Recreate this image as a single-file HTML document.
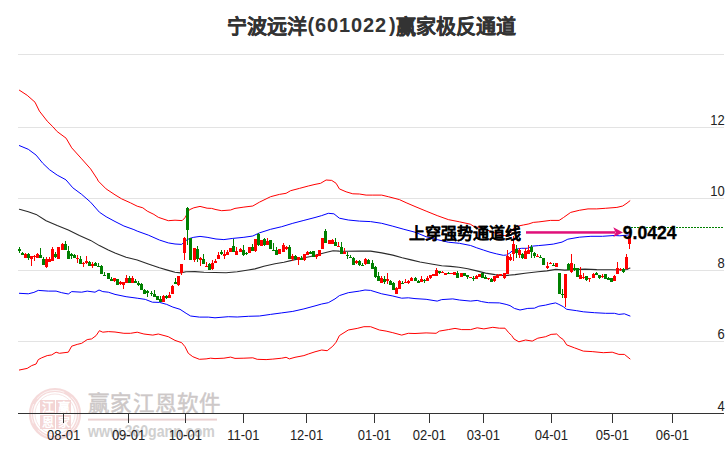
<!DOCTYPE html>
<html lang="zh-CN"><head><meta charset="utf-8">
<style>
html,body{margin:0;padding:0;background:#fff;}
body{width:726px;height:450px;position:relative;overflow:hidden;font-family:"Liberation Sans",sans-serif;}
.title{position:absolute;font-size:20px;font-weight:bold;color:#333;white-space:nowrap;}
.tn{margin-left:-2px;margin-right:6px;}
.xl{position:absolute;top:427px;width:60px;text-align:center;font-size:13px;color:#222;transform:scaleY(1.1);transform-origin:50% 0;}
.yl{position:absolute;right:1.2px;width:40px;text-align:right;font-size:13px;color:#222;transform:scaleY(1.1);transform-origin:50% 0;}
.wm1{position:absolute;left:88.2px;top:385.6px;font-size:21.5px;color:#cdc8c8;letter-spacing:0.2px;white-space:nowrap;-webkit-text-stroke:0.45px #cdc8c8;}
.wm2{position:absolute;left:88px;top:423px;font-size:16px;line-height:18px;font-weight:bold;color:#d0d0d0;white-space:nowrap;transform:scaleX(0.885);transform-origin:0 0;}
.ann{position:absolute;left:409px;top:219.5px;font-size:16px;font-weight:bold;color:#000;white-space:nowrap;-webkit-text-stroke:0.1px #000;}
.val{position:absolute;left:622.8px;top:222.6px;font-size:17.6px;font-weight:bold;color:#000;white-space:nowrap;-webkit-text-stroke:0.3px #000;}
svg{position:absolute;left:0;top:0;}
</style></head><body>
<svg width="726" height="450" viewBox="0 0 726 450">
<g opacity="0.55">
<circle cx="55" cy="414" r="24" fill="none" stroke="#eebcbc" stroke-width="4.2"/>
<circle cx="55" cy="414" r="23.6" fill="none" stroke="#fff" stroke-width="0.7" stroke-dasharray="20,6,30,8"/>
<circle cx="55" cy="414" r="20" fill="none" stroke="#f0d0d0" stroke-width="1"/>
<rect x="40" y="400" width="15" height="14" fill="#eab3b3"/>
<rect x="56" y="400" width="15" height="14" fill="#eab3b3"/>
<rect x="40" y="415" width="15" height="14" fill="#eab3b3"/>
<rect x="56" y="415" width="15" height="14" fill="#eab3b3"/>
<text x="47.5" y="412" font-size="12" text-anchor="middle" fill="#fff" font-weight="bold">江</text>
<text x="63.5" y="412" font-size="12" text-anchor="middle" fill="#fff" font-weight="bold">赢</text>
<text x="47.5" y="427" font-size="12" text-anchor="middle" fill="#fff" font-weight="bold">恩</text>
<text x="63.5" y="427" font-size="12" text-anchor="middle" fill="#fff" font-weight="bold">家</text>
</g>
<rect x="88" y="418.6" width="129" height="2" fill="#ecd2d2"/>
</svg>
<div class="wm1">赢家江恩软件</div>
<div class="wm2">www.360gann.com</div>
<svg width="726" height="450" viewBox="0 0 726 450">
<rect x="18" y="54" width="706" height="1" fill="#e3e3e3"/><rect x="18" y="127" width="706" height="1" fill="#e3e3e3"/><rect x="18" y="198" width="706" height="1" fill="#e3e3e3"/><rect x="18" y="270" width="706" height="1" fill="#e3e3e3"/><rect x="18" y="341" width="706" height="1" fill="#e3e3e3"/>
<rect x="18" y="413" width="706" height="1" fill="#333"/>
<rect x="63" y="413" width="1" height="10" fill="#333"/><rect x="128" y="413" width="1" height="10" fill="#333"/><rect x="185" y="413" width="1" height="10" fill="#333"/><rect x="243" y="413" width="1" height="10" fill="#333"/><rect x="306" y="413" width="1" height="10" fill="#333"/><rect x="374" y="413" width="1" height="10" fill="#333"/><rect x="429" y="413" width="1" height="10" fill="#333"/><rect x="483" y="413" width="1" height="10" fill="#333"/><rect x="551" y="413" width="1" height="10" fill="#333"/><rect x="612" y="413" width="1" height="10" fill="#333"/><rect x="672" y="413" width="1" height="10" fill="#333"/>
<g fill="none" stroke-linejoin="round" stroke-linecap="round">
<polyline points="19.4,90.2 27.2,95.3 35.0,102.2 39.4,111.1 47.2,121.1 52.8,126.7 57.2,131.6 66.1,138.2 71.7,147.8 81.7,158.9 90.6,168.9 97.2,178.9 98.3,181.1 106.1,188.9 115.0,194.8 121.7,198.9 130.6,202.9 137.2,206.2 142.8,207.8 147.2,211.1 153.9,214.4 158.3,217.3 168.3,220.7 175.0,220.2 182.2,220.6 184.9,217.8 186.7,214.7 189.3,209.8 193.8,207.8 200.0,206.4 207.1,208.2 211.6,208.4 216.0,209.6 221.7,210.7 230.6,210.0 235.0,208.4 243.9,207.1 252.8,206.0 259.4,202.2 270.6,196.7 279.4,194.4 286.1,193.3 290.6,190.7 299.4,188.4 308.3,186.0 315.0,184.4 320.6,183.3 326.1,180.0 331.7,180.4 336.1,183.3 339.4,188.9 346.1,191.8 352.8,193.8 359.4,194.0 366.1,195.1 372.8,195.1 381.7,195.1 388.3,196.7 399.4,199.6 406.1,202.7 415.0,206.5 426.1,211.1 437.2,215.6 448.3,219.6 459.4,221.8 470.3,224.2 474.4,226.7 481.7,227.8 492.8,232.2 503.9,235.6 506.7,235.6 510.0,233.0 513.0,229.0 517.8,226.1 523.3,225.0 528.9,223.9 533.3,222.4 538.9,221.9 550.4,220.4 559.1,220.4 563.4,217.6 570.7,212.4 579.3,210.3 588.0,208.9 596.7,208.9 605.3,208.3 616.9,207.4 622.7,206.0 627.0,203.1 629.9,200.8" stroke="#ff0000" stroke-width="1"/>
<polyline points="19.4,370.0 27.2,368.4 31.7,365.6 36.1,364.0 38.3,359.6 41.7,357.8 47.2,355.6 51.7,354.9 56.1,352.2 59.4,353.3 68.3,352.2 71.7,346.2 77.2,344.4 81.7,343.3 87.2,339.6 91.7,338.9 96.1,335.6 99.4,330.7 102.8,332.2 108.3,331.6 115.0,332.0 123.9,333.3 130.6,333.3 137.2,332.2 143.9,334.0 152.8,335.1 158.3,334.0 168.3,336.7 175.0,340.4 181.7,342.7 185.0,346.7 188.3,353.3 192.8,356.7 199.4,359.3 206.1,358.9 210.6,358.2 215.0,358.6 223.9,358.2 230.6,357.1 235.0,358.4 243.9,358.2 252.8,357.8 257.2,359.3 266.1,359.6 272.8,359.1 281.7,358.2 286.1,357.3 289.4,358.9 295.0,357.3 303.9,355.6 308.3,354.0 315.0,351.8 321.7,350.0 327.2,350.7 332.8,346.2 336.1,342.2 339.4,335.6 348.3,330.0 357.2,328.4 363.9,326.7 370.6,326.7 379.4,330.0 386.1,331.1 392.8,332.7 401.7,335.1 408.3,333.3 415.0,333.5 426.1,332.9 436.1,333.3 439.4,331.1 448.3,329.6 455.0,328.4 461.7,329.6 470.6,329.6 477.2,327.8 483.9,328.9 492.8,327.3 499.4,328.2 505.0,328.2 508.3,332.2 511.7,335.6 514.0,339.0 518.9,341.8 525.6,340.0 532.2,341.1 537.8,338.2 545.6,336.7 551.1,334.4 556.7,334.0 560.0,337.3 563.3,339.6 566.7,344.9 574.4,347.8 583.3,351.1 592.2,351.6 603.3,352.7 612.2,352.2 618.9,354.4 624.4,354.4 630.0,358.9" stroke="#ff0000" stroke-width="1"/>
<polyline points="19.4,145.6 28.3,149.3 36.1,155.1 42.8,163.3 49.4,169.6 57.2,175.1 65.0,179.3 66.1,180.0 72.8,187.8 81.7,194.4 90.6,202.2 99.4,212.2 106.1,216.7 115.0,221.5 123.9,226.0 133.9,229.6 137.2,231.1 148.3,235.1 159.4,240.0 168.3,242.9 175.0,244.0 181.7,244.4 185.0,241.1 189.4,238.5 193.8,237.3 200.0,236.4 207.1,237.3 216.0,239.0 223.9,239.6 232.8,238.4 243.9,237.3 252.8,236.0 259.4,232.9 270.6,229.3 281.7,226.7 292.8,223.3 303.9,220.4 315.0,217.5 321.7,215.6 328.3,213.3 333.9,213.8 339.4,218.2 348.3,220.0 359.4,221.1 370.6,221.6 381.7,223.3 392.8,226.2 403.9,229.3 415.0,232.2 426.1,236.7 437.2,239.6 448.3,242.2 459.4,243.3 470.6,245.5 476.7,247.8 483.3,250.0 490.0,252.2 496.7,253.9 503.3,255.3 506.7,255.0 510.0,252.8 513.3,250.0 517.2,248.9 521.7,248.3 527.2,248.3 532.8,246.1 538.3,245.6 545.0,245.0 553.3,244.1 562.0,242.1 567.8,239.2 579.3,237.2 590.9,236.3 602.4,236.3 614.0,235.5 619.8,235.8 629.4,234.9" stroke="#0000ff" stroke-width="1"/>
<polyline points="19.4,293.3 28.3,293.8 33.9,292.4 38.3,290.4 48.3,291.1 56.1,291.1 61.7,292.7 68.3,294.0 71.7,291.6 81.7,292.2 87.2,291.1 95.0,292.2 99.0,290.0 102.8,291.6 108.3,292.2 115.0,294.4 126.1,296.7 137.2,298.2 145.3,299.4 152.4,302.2 159.6,302.4 166.7,304.4 172.9,307.1 180.0,309.3 186.1,313.3 190.6,316.0 199.4,317.1 208.3,317.1 215.0,317.8 228.3,316.7 237.2,317.0 248.3,316.3 259.4,316.0 270.6,314.4 281.7,312.9 292.8,311.4 303.9,308.9 315.0,305.9 321.7,304.0 328.3,302.7 335.0,298.9 339.4,295.6 348.3,292.7 359.4,291.1 365.0,290.0 370.6,290.4 381.7,293.8 392.8,296.0 401.7,298.2 408.3,297.8 415.0,298.6 426.1,299.3 437.2,301.1 441.7,299.6 452.8,298.9 459.4,300.0 470.6,301.1 477.2,300.4 481.7,301.6 488.3,302.7 499.4,302.9 506.1,304.4 510.0,305.6 514.4,308.4 520.0,310.0 527.8,308.4 534.4,308.2 538.9,306.2 545.6,305.1 550.0,304.0 555.6,302.9 558.9,304.4 563.3,306.7 566.7,309.3 576.7,310.7 583.3,311.8 594.4,312.7 605.6,313.3 614.4,313.3 618.9,314.4 624.4,313.8 630.0,316.0" stroke="#0000ff" stroke-width="1"/>
<polyline points="19.4,209.3 28.3,211.8 36.1,214.4 46.1,220.7 57.2,225.6 68.3,230.0 79.4,235.6 90.6,240.4 99.4,245.6 108.3,250.0 115.0,253.0 126.1,257.3 137.2,260.0 148.3,264.0 159.4,267.8 168.3,270.4 175.0,272.2 180.6,272.9 186.1,271.8 195.0,271.6 203.9,272.2 215.0,272.5 226.1,272.7 237.2,271.8 248.3,270.0 255.0,268.9 263.9,266.2 275.0,263.8 283.9,262.3 292.8,260.1 301.7,258.3 310.6,256.5 318.9,254.2 327.8,252.0 333.1,250.7 339.3,251.1 345.6,251.3 359.4,251.1 370.6,251.1 381.7,252.9 392.8,255.1 402.2,257.7 411.1,259.9 420.0,262.0 432.8,264.3 441.7,265.7 450.6,266.4 458.9,267.3 467.8,268.7 476.7,270.9 485.6,273.1 495.0,274.6 505.0,275.6 515.0,274.6 525.0,273.3 538.0,271.8 546.9,270.9 555.8,269.4 564.7,270.1 573.6,269.6 585.0,269.1 596.7,269.6 611.1,269.8 622.7,270.0 627.0,269.5 629.9,268.1" stroke="#2a2a2a" stroke-width="1.1"/>
</g>
<g shape-rendering="crispEdges"><rect x="19" y="247" width="1" height="6" fill="#008000"/><rect x="18" y="249" width="3" height="2" fill="#008000"/><rect x="22" y="252" width="1" height="3" fill="#008000"/><rect x="21" y="253" width="3" height="2" fill="#008000"/><rect x="25" y="253" width="1" height="5" fill="#ff0000"/><rect x="24" y="254" width="3" height="4" fill="#ff0000"/><rect x="28" y="253" width="1" height="7" fill="#008000"/><rect x="27" y="254" width="3" height="4" fill="#008000"/><rect x="31" y="256" width="1" height="10" fill="#ff0000"/><rect x="30" y="256" width="3" height="3" fill="#ff0000"/><rect x="34" y="255" width="1" height="6" fill="#ff0000"/><rect x="33" y="256" width="3" height="1" fill="#ff0000"/><rect x="37" y="253" width="1" height="5" fill="#ff0000"/><rect x="36" y="254" width="3" height="4" fill="#ff0000"/><rect x="40" y="248" width="1" height="10" fill="#008000"/><rect x="39" y="255" width="3" height="3" fill="#008000"/><rect x="43" y="257" width="1" height="8" fill="#008000"/><rect x="42" y="259" width="3" height="6" fill="#008000"/><rect x="46" y="257" width="1" height="11" fill="#ff0000"/><rect x="45" y="259" width="3" height="8" fill="#ff0000"/><rect x="49" y="257" width="1" height="5" fill="#ff0000"/><rect x="48" y="259" width="3" height="3" fill="#ff0000"/><rect x="52" y="247" width="1" height="14" fill="#ff0000"/><rect x="51" y="249" width="3" height="12" fill="#ff0000"/><rect x="55" y="252" width="1" height="6" fill="#008000"/><rect x="54" y="254" width="3" height="3" fill="#008000"/><rect x="58" y="247" width="1" height="12" fill="#ff0000"/><rect x="57" y="247" width="3" height="12" fill="#ff0000"/><rect x="62" y="243" width="1" height="7" fill="#ff0000"/><rect x="61" y="244" width="3" height="6" fill="#ff0000"/><rect x="65" y="241" width="1" height="9" fill="#008000"/><rect x="64" y="244" width="3" height="6" fill="#008000"/><rect x="68" y="246" width="1" height="13" fill="#008000"/><rect x="67" y="251" width="3" height="8" fill="#008000"/><rect x="71" y="253" width="1" height="6" fill="#008000"/><rect x="70" y="254" width="3" height="2" fill="#008000"/><rect x="74" y="254" width="1" height="4" fill="#008000"/><rect x="73" y="255" width="3" height="3" fill="#008000"/><rect x="77" y="255" width="1" height="8" fill="#ff0000"/><rect x="76" y="258" width="3" height="1" fill="#ff0000"/><rect x="80" y="256" width="1" height="8" fill="#008000"/><rect x="79" y="259" width="3" height="5" fill="#008000"/><rect x="83" y="262" width="1" height="5" fill="#ff0000"/><rect x="82" y="263" width="3" height="1" fill="#ff0000"/><rect x="86" y="256" width="1" height="8" fill="#ff0000"/><rect x="85" y="261" width="3" height="2" fill="#ff0000"/><rect x="89" y="261" width="1" height="5" fill="#008000"/><rect x="88" y="262" width="3" height="4" fill="#008000"/><rect x="92" y="262" width="1" height="6" fill="#ff0000"/><rect x="91" y="264" width="3" height="2" fill="#ff0000"/><rect x="95" y="262" width="1" height="4" fill="#008000"/><rect x="94" y="263" width="3" height="3" fill="#008000"/><rect x="98" y="263" width="1" height="4" fill="#008000"/><rect x="97" y="266" width="3" height="1" fill="#008000"/><rect x="101" y="265" width="1" height="9" fill="#008000"/><rect x="100" y="266" width="3" height="8" fill="#008000"/><rect x="104" y="272" width="1" height="4" fill="#008000"/><rect x="103" y="275" width="3" height="1" fill="#008000"/><rect x="108" y="273" width="1" height="6" fill="#008000"/><rect x="107" y="273" width="3" height="6" fill="#008000"/><rect x="111" y="277" width="1" height="4" fill="#008000"/><rect x="110" y="279" width="3" height="2" fill="#008000"/><rect x="114" y="278" width="1" height="4" fill="#ff0000"/><rect x="113" y="278" width="3" height="3" fill="#ff0000"/><rect x="117" y="279" width="1" height="6" fill="#008000"/><rect x="116" y="279" width="3" height="6" fill="#008000"/><rect x="120" y="281" width="1" height="4" fill="#ff0000"/><rect x="119" y="282" width="3" height="2" fill="#ff0000"/><rect x="123" y="282" width="1" height="7" fill="#ff0000"/><rect x="122" y="282" width="3" height="3" fill="#ff0000"/><rect x="126" y="275" width="1" height="8" fill="#ff0000"/><rect x="125" y="278" width="3" height="5" fill="#ff0000"/><rect x="129" y="276" width="1" height="7" fill="#008000"/><rect x="128" y="278" width="3" height="5" fill="#008000"/><rect x="132" y="276" width="1" height="7" fill="#ff0000"/><rect x="131" y="278" width="3" height="5" fill="#ff0000"/><rect x="135" y="279" width="1" height="4" fill="#008000"/><rect x="134" y="281" width="3" height="2" fill="#008000"/><rect x="138" y="281" width="1" height="5" fill="#008000"/><rect x="137" y="283" width="3" height="2" fill="#008000"/><rect x="141" y="283" width="1" height="7" fill="#008000"/><rect x="140" y="284" width="3" height="6" fill="#008000"/><rect x="144" y="289" width="1" height="5" fill="#008000"/><rect x="143" y="290" width="3" height="4" fill="#008000"/><rect x="147" y="290" width="1" height="7" fill="#008000"/><rect x="146" y="291" width="3" height="2" fill="#008000"/><rect x="151" y="291" width="1" height="5" fill="#008000"/><rect x="150" y="293" width="3" height="1" fill="#008000"/><rect x="154" y="290" width="1" height="7" fill="#008000"/><rect x="153" y="294" width="3" height="3" fill="#008000"/><rect x="157" y="296" width="1" height="4" fill="#008000"/><rect x="156" y="296" width="3" height="4" fill="#008000"/><rect x="160" y="296" width="1" height="6" fill="#008000"/><rect x="159" y="299" width="3" height="3" fill="#008000"/><rect x="163" y="295" width="1" height="7" fill="#ff0000"/><rect x="162" y="296" width="3" height="6" fill="#ff0000"/><rect x="166" y="295" width="1" height="4" fill="#008000"/><rect x="165" y="296" width="3" height="2" fill="#008000"/><rect x="169" y="292" width="1" height="6" fill="#ff0000"/><rect x="168" y="295" width="3" height="3" fill="#ff0000"/><rect x="172" y="285" width="1" height="9" fill="#ff0000"/><rect x="171" y="286" width="3" height="8" fill="#ff0000"/><rect x="175" y="278" width="1" height="6" fill="#008000"/><rect x="174" y="282" width="3" height="2" fill="#008000"/><rect x="178" y="276" width="1" height="10" fill="#ff0000"/><rect x="177" y="276" width="3" height="9" fill="#ff0000"/><rect x="181" y="264" width="1" height="11" fill="#ff0000"/><rect x="180" y="264" width="3" height="9" fill="#ff0000"/><rect x="184" y="237" width="1" height="23" fill="#ff0000"/><rect x="183" y="238" width="3" height="15" fill="#ff0000"/><rect x="187" y="207" width="1" height="38" fill="#008000"/><rect x="186" y="208" width="3" height="22" fill="#008000"/><rect x="190" y="238" width="1" height="22" fill="#008000"/><rect x="189" y="238" width="3" height="22" fill="#008000"/><rect x="194" y="248" width="1" height="14" fill="#ff0000"/><rect x="193" y="248" width="3" height="12" fill="#ff0000"/><rect x="197" y="246" width="1" height="16" fill="#008000"/><rect x="196" y="249" width="3" height="10" fill="#008000"/><rect x="200" y="257" width="1" height="9" fill="#ff0000"/><rect x="199" y="258" width="3" height="2" fill="#ff0000"/><rect x="203" y="254" width="1" height="10" fill="#008000"/><rect x="202" y="259" width="3" height="5" fill="#008000"/><rect x="206" y="262" width="1" height="5" fill="#ff0000"/><rect x="205" y="266" width="3" height="1" fill="#ff0000"/><rect x="209" y="263" width="1" height="7" fill="#008000"/><rect x="208" y="264" width="3" height="6" fill="#008000"/><rect x="212" y="260" width="1" height="10" fill="#ff0000"/><rect x="211" y="263" width="3" height="6" fill="#ff0000"/><rect x="215" y="259" width="1" height="4" fill="#ff0000"/><rect x="214" y="261" width="3" height="2" fill="#ff0000"/><rect x="218" y="252" width="1" height="7" fill="#ff0000"/><rect x="217" y="255" width="3" height="4" fill="#ff0000"/><rect x="221" y="250" width="1" height="5" fill="#008000"/><rect x="220" y="252" width="3" height="2" fill="#008000"/><rect x="224" y="250" width="1" height="9" fill="#ff0000"/><rect x="223" y="254" width="3" height="2" fill="#ff0000"/><rect x="227" y="250" width="1" height="5" fill="#ff0000"/><rect x="226" y="252" width="3" height="3" fill="#ff0000"/><rect x="230" y="248" width="1" height="4" fill="#ff0000"/><rect x="229" y="248" width="3" height="4" fill="#ff0000"/><rect x="233" y="239" width="1" height="13" fill="#008000"/><rect x="232" y="246" width="3" height="6" fill="#008000"/><rect x="236" y="247" width="1" height="8" fill="#ff0000"/><rect x="235" y="251" width="3" height="4" fill="#ff0000"/><rect x="240" y="248" width="1" height="4" fill="#ff0000"/><rect x="239" y="249" width="3" height="3" fill="#ff0000"/><rect x="243" y="245" width="1" height="11" fill="#008000"/><rect x="242" y="250" width="3" height="5" fill="#008000"/><rect x="246" y="252" width="1" height="3" fill="#008000"/><rect x="245" y="253" width="3" height="1" fill="#008000"/><rect x="249" y="247" width="1" height="6" fill="#ff0000"/><rect x="248" y="247" width="3" height="6" fill="#ff0000"/><rect x="252" y="244" width="1" height="7" fill="#008000"/><rect x="251" y="247" width="3" height="4" fill="#008000"/><rect x="255" y="239" width="1" height="13" fill="#ff0000"/><rect x="254" y="239" width="3" height="12" fill="#ff0000"/><rect x="258" y="233" width="1" height="13" fill="#008000"/><rect x="257" y="234" width="3" height="11" fill="#008000"/><rect x="261" y="240" width="1" height="6" fill="#ff0000"/><rect x="260" y="240" width="3" height="6" fill="#ff0000"/><rect x="264" y="238" width="1" height="8" fill="#008000"/><rect x="263" y="239" width="3" height="6" fill="#008000"/><rect x="267" y="238" width="1" height="7" fill="#ff0000"/><rect x="266" y="241" width="3" height="4" fill="#ff0000"/><rect x="270" y="240" width="1" height="9" fill="#008000"/><rect x="269" y="240" width="3" height="9" fill="#008000"/><rect x="273" y="243" width="1" height="8" fill="#008000"/><rect x="272" y="250" width="3" height="1" fill="#008000"/><rect x="276" y="247" width="1" height="8" fill="#008000"/><rect x="275" y="250" width="3" height="5" fill="#008000"/><rect x="279" y="249" width="1" height="5" fill="#ff0000"/><rect x="278" y="249" width="3" height="5" fill="#ff0000"/><rect x="283" y="243" width="1" height="9" fill="#ff0000"/><rect x="282" y="245" width="3" height="7" fill="#ff0000"/><rect x="286" y="246" width="1" height="4" fill="#ff0000"/><rect x="285" y="247" width="3" height="2" fill="#ff0000"/><rect x="289" y="245" width="1" height="14" fill="#008000"/><rect x="288" y="247" width="3" height="12" fill="#008000"/><rect x="292" y="254" width="1" height="7" fill="#ff0000"/><rect x="291" y="256" width="3" height="3" fill="#ff0000"/><rect x="295" y="255" width="1" height="4" fill="#008000"/><rect x="294" y="256" width="3" height="3" fill="#008000"/><rect x="298" y="257" width="1" height="8" fill="#ff0000"/><rect x="297" y="257" width="3" height="3" fill="#ff0000"/><rect x="301" y="256" width="1" height="4" fill="#008000"/><rect x="300" y="258" width="3" height="2" fill="#008000"/><rect x="304" y="254" width="1" height="7" fill="#ff0000"/><rect x="303" y="254" width="3" height="6" fill="#ff0000"/><rect x="307" y="251" width="1" height="4" fill="#ff0000"/><rect x="306" y="252" width="3" height="3" fill="#ff0000"/><rect x="310" y="251" width="1" height="3" fill="#008000"/><rect x="309" y="252" width="3" height="2" fill="#008000"/><rect x="313" y="251" width="1" height="6" fill="#008000"/><rect x="312" y="251" width="3" height="6" fill="#008000"/><rect x="316" y="254" width="1" height="5" fill="#ff0000"/><rect x="315" y="255" width="3" height="2" fill="#ff0000"/><rect x="319" y="250" width="1" height="6" fill="#ff0000"/><rect x="318" y="250" width="3" height="6" fill="#ff0000"/><rect x="322" y="238" width="1" height="11" fill="#ff0000"/><rect x="321" y="238" width="3" height="11" fill="#ff0000"/><rect x="325" y="229" width="1" height="14" fill="#008000"/><rect x="324" y="231" width="3" height="12" fill="#008000"/><rect x="329" y="240" width="1" height="4" fill="#ff0000"/><rect x="328" y="240" width="3" height="4" fill="#ff0000"/><rect x="332" y="239" width="1" height="5" fill="#ff0000"/><rect x="331" y="240" width="3" height="4" fill="#ff0000"/><rect x="335" y="238" width="1" height="8" fill="#008000"/><rect x="334" y="242" width="3" height="4" fill="#008000"/><rect x="338" y="242" width="1" height="5" fill="#ff0000"/><rect x="337" y="246" width="3" height="1" fill="#ff0000"/><rect x="341" y="242" width="1" height="12" fill="#008000"/><rect x="340" y="247" width="3" height="7" fill="#008000"/><rect x="344" y="248" width="1" height="6" fill="#ff0000"/><rect x="343" y="252" width="3" height="2" fill="#ff0000"/><rect x="347" y="252" width="1" height="7" fill="#008000"/><rect x="346" y="255" width="3" height="1" fill="#008000"/><rect x="350" y="255" width="1" height="3" fill="#008000"/><rect x="349" y="257" width="3" height="1" fill="#008000"/><rect x="353" y="257" width="1" height="8" fill="#008000"/><rect x="352" y="258" width="3" height="7" fill="#008000"/><rect x="356" y="260" width="1" height="4" fill="#ff0000"/><rect x="355" y="261" width="3" height="2" fill="#ff0000"/><rect x="359" y="260" width="1" height="6" fill="#008000"/><rect x="358" y="261" width="3" height="4" fill="#008000"/><rect x="362" y="263" width="1" height="3" fill="#008000"/><rect x="361" y="265" width="3" height="1" fill="#008000"/><rect x="365" y="258" width="1" height="7" fill="#ff0000"/><rect x="364" y="259" width="3" height="5" fill="#ff0000"/><rect x="368" y="259" width="1" height="5" fill="#008000"/><rect x="367" y="260" width="3" height="4" fill="#008000"/><rect x="372" y="260" width="1" height="9" fill="#008000"/><rect x="371" y="263" width="3" height="6" fill="#008000"/><rect x="375" y="266" width="1" height="12" fill="#008000"/><rect x="374" y="267" width="3" height="10" fill="#008000"/><rect x="378" y="272" width="1" height="9" fill="#008000"/><rect x="377" y="276" width="3" height="5" fill="#008000"/><rect x="381" y="276" width="1" height="7" fill="#ff0000"/><rect x="380" y="278" width="3" height="5" fill="#ff0000"/><rect x="384" y="276" width="1" height="8" fill="#008000"/><rect x="383" y="279" width="3" height="3" fill="#008000"/><rect x="387" y="273" width="1" height="11" fill="#ff0000"/><rect x="386" y="279" width="3" height="2" fill="#ff0000"/><rect x="390" y="280" width="1" height="5" fill="#008000"/><rect x="389" y="281" width="3" height="4" fill="#008000"/><rect x="393" y="282" width="1" height="8" fill="#008000"/><rect x="392" y="283" width="3" height="7" fill="#008000"/><rect x="396" y="287" width="1" height="7" fill="#ff0000"/><rect x="395" y="288" width="3" height="6" fill="#ff0000"/><rect x="399" y="280" width="1" height="9" fill="#ff0000"/><rect x="398" y="281" width="3" height="8" fill="#ff0000"/><rect x="402" y="281" width="1" height="3" fill="#008000"/><rect x="401" y="283" width="3" height="1" fill="#008000"/><rect x="405" y="279" width="1" height="4" fill="#ff0000"/><rect x="404" y="282" width="3" height="1" fill="#ff0000"/><rect x="408" y="280" width="1" height="4" fill="#ff0000"/><rect x="407" y="281" width="3" height="2" fill="#ff0000"/><rect x="411" y="277" width="1" height="4" fill="#ff0000"/><rect x="410" y="278" width="3" height="3" fill="#ff0000"/><rect x="415" y="277" width="1" height="4" fill="#008000"/><rect x="414" y="278" width="3" height="3" fill="#008000"/><rect x="418" y="280" width="1" height="3" fill="#008000"/><rect x="417" y="281" width="3" height="2" fill="#008000"/><rect x="421" y="276" width="1" height="6" fill="#ff0000"/><rect x="420" y="279" width="3" height="3" fill="#ff0000"/><rect x="424" y="279" width="1" height="4" fill="#008000"/><rect x="423" y="280" width="3" height="1" fill="#008000"/><rect x="427" y="276" width="1" height="5" fill="#ff0000"/><rect x="426" y="278" width="3" height="3" fill="#ff0000"/><rect x="430" y="275" width="1" height="4" fill="#ff0000"/><rect x="429" y="275" width="3" height="3" fill="#ff0000"/><rect x="433" y="274" width="1" height="2" fill="#ff0000"/><rect x="432" y="274" width="3" height="2" fill="#ff0000"/><rect x="436" y="268" width="1" height="8" fill="#ff0000"/><rect x="435" y="270" width="3" height="6" fill="#ff0000"/><rect x="439" y="271" width="1" height="3" fill="#008000"/><rect x="438" y="271" width="3" height="2" fill="#008000"/><rect x="442" y="271" width="1" height="2" fill="#ff0000"/><rect x="441" y="272" width="3" height="1" fill="#ff0000"/><rect x="445" y="273" width="1" height="2" fill="#ff0000"/><rect x="444" y="273" width="3" height="2" fill="#ff0000"/><rect x="448" y="272" width="1" height="2" fill="#008000"/><rect x="447" y="273" width="3" height="1" fill="#008000"/><rect x="451" y="273" width="1" height="1" fill="#ff0000"/><rect x="450" y="273" width="3" height="1" fill="#ff0000"/><rect x="454" y="272" width="1" height="3" fill="#ff0000"/><rect x="453" y="272" width="3" height="3" fill="#ff0000"/><rect x="457" y="271" width="1" height="7" fill="#008000"/><rect x="456" y="273" width="3" height="5" fill="#008000"/><rect x="461" y="273" width="1" height="4" fill="#ff0000"/><rect x="460" y="273" width="3" height="4" fill="#ff0000"/><rect x="464" y="273" width="1" height="3" fill="#008000"/><rect x="463" y="273" width="3" height="3" fill="#008000"/><rect x="467" y="275" width="1" height="4" fill="#008000"/><rect x="466" y="275" width="3" height="2" fill="#008000"/><rect x="470" y="277" width="1" height="1" fill="#ff0000"/><rect x="469" y="277" width="3" height="1" fill="#ff0000"/><rect x="473" y="276" width="1" height="5" fill="#008000"/><rect x="472" y="278" width="3" height="1" fill="#008000"/><rect x="476" y="275" width="1" height="4" fill="#ff0000"/><rect x="475" y="276" width="3" height="3" fill="#ff0000"/><rect x="479" y="274" width="1" height="3" fill="#ff0000"/><rect x="478" y="274" width="3" height="3" fill="#ff0000"/><rect x="482" y="273" width="1" height="5" fill="#008000"/><rect x="481" y="273" width="3" height="5" fill="#008000"/><rect x="485" y="275" width="1" height="4" fill="#008000"/><rect x="484" y="277" width="3" height="2" fill="#008000"/><rect x="488" y="278" width="1" height="2" fill="#ff0000"/><rect x="487" y="278" width="3" height="1" fill="#ff0000"/><rect x="491" y="278" width="1" height="4" fill="#008000"/><rect x="490" y="279" width="3" height="3" fill="#008000"/><rect x="494" y="276" width="1" height="6" fill="#ff0000"/><rect x="493" y="276" width="3" height="5" fill="#ff0000"/><rect x="497" y="274" width="1" height="4" fill="#ff0000"/><rect x="496" y="275" width="3" height="3" fill="#ff0000"/><rect x="500" y="274" width="1" height="2" fill="#ff0000"/><rect x="499" y="274" width="3" height="2" fill="#ff0000"/><rect x="504" y="273" width="1" height="6" fill="#ff0000"/><rect x="503" y="273" width="3" height="5" fill="#ff0000"/><rect x="507" y="250" width="1" height="24" fill="#ff0000"/><rect x="506" y="256" width="3" height="18" fill="#ff0000"/><rect x="510" y="254" width="1" height="7" fill="#ff0000"/><rect x="509" y="257" width="3" height="3" fill="#ff0000"/><rect x="513" y="236" width="1" height="25" fill="#ff0000"/><rect x="512" y="244" width="3" height="10" fill="#ff0000"/><rect x="516" y="245" width="1" height="13" fill="#008000"/><rect x="515" y="249" width="3" height="4" fill="#008000"/><rect x="519" y="248" width="1" height="10" fill="#ff0000"/><rect x="518" y="250" width="3" height="5" fill="#ff0000"/><rect x="522" y="253" width="1" height="6" fill="#008000"/><rect x="521" y="254" width="3" height="4" fill="#008000"/><rect x="525" y="248" width="1" height="11" fill="#ff0000"/><rect x="524" y="251" width="3" height="8" fill="#ff0000"/><rect x="528" y="245" width="1" height="9" fill="#ff0000"/><rect x="527" y="250" width="3" height="4" fill="#ff0000"/><rect x="531" y="245" width="1" height="13" fill="#008000"/><rect x="530" y="247" width="3" height="5" fill="#008000"/><rect x="534" y="252" width="1" height="6" fill="#008000"/><rect x="533" y="253" width="3" height="3" fill="#008000"/><rect x="537" y="254" width="1" height="3" fill="#ff0000"/><rect x="536" y="256" width="3" height="1" fill="#ff0000"/><rect x="540" y="255" width="1" height="3" fill="#008000"/><rect x="539" y="257" width="3" height="1" fill="#008000"/><rect x="543" y="258" width="1" height="7" fill="#008000"/><rect x="542" y="258" width="3" height="7" fill="#008000"/><rect x="547" y="262" width="1" height="7" fill="#ff0000"/><rect x="546" y="266" width="3" height="2" fill="#ff0000"/><rect x="550" y="262" width="1" height="2" fill="#ff0000"/><rect x="549" y="263" width="3" height="1" fill="#ff0000"/><rect x="553" y="263" width="1" height="3" fill="#008000"/><rect x="552" y="265" width="3" height="1" fill="#008000"/><rect x="556" y="263" width="1" height="4" fill="#ff0000"/><rect x="555" y="263" width="3" height="4" fill="#ff0000"/><rect x="559" y="273" width="1" height="21" fill="#008000"/><rect x="558" y="273" width="3" height="21" fill="#008000"/><rect x="562" y="289" width="1" height="9" fill="#008000"/><rect x="561" y="294" width="3" height="1" fill="#008000"/><rect x="565" y="274" width="1" height="33" fill="#ff0000"/><rect x="564" y="274" width="3" height="24" fill="#ff0000"/><rect x="568" y="263" width="1" height="7" fill="#008000"/><rect x="567" y="264" width="3" height="6" fill="#008000"/><rect x="571" y="254" width="1" height="19" fill="#ff0000"/><rect x="570" y="263" width="3" height="9" fill="#ff0000"/><rect x="574" y="264" width="1" height="7" fill="#008000"/><rect x="573" y="268" width="3" height="2" fill="#008000"/><rect x="577" y="268" width="1" height="9" fill="#008000"/><rect x="576" y="268" width="3" height="9" fill="#008000"/><rect x="580" y="267" width="1" height="12" fill="#ff0000"/><rect x="579" y="275" width="3" height="4" fill="#ff0000"/><rect x="583" y="273" width="1" height="6" fill="#ff0000"/><rect x="582" y="277" width="3" height="1" fill="#ff0000"/><rect x="586" y="276" width="1" height="5" fill="#008000"/><rect x="585" y="276" width="3" height="4" fill="#008000"/><rect x="589" y="278" width="1" height="4" fill="#ff0000"/><rect x="588" y="278" width="3" height="1" fill="#ff0000"/><rect x="593" y="273" width="1" height="5" fill="#ff0000"/><rect x="592" y="274" width="3" height="4" fill="#ff0000"/><rect x="596" y="272" width="1" height="3" fill="#008000"/><rect x="595" y="273" width="3" height="2" fill="#008000"/><rect x="599" y="275" width="1" height="4" fill="#008000"/><rect x="598" y="275" width="3" height="3" fill="#008000"/><rect x="602" y="274" width="1" height="4" fill="#ff0000"/><rect x="601" y="276" width="3" height="1" fill="#ff0000"/><rect x="605" y="274" width="1" height="5" fill="#008000"/><rect x="604" y="274" width="3" height="5" fill="#008000"/><rect x="608" y="277" width="1" height="3" fill="#008000"/><rect x="607" y="278" width="3" height="2" fill="#008000"/><rect x="611" y="278" width="1" height="4" fill="#008000"/><rect x="610" y="278" width="3" height="4" fill="#008000"/><rect x="614" y="275" width="1" height="6" fill="#ff0000"/><rect x="613" y="276" width="3" height="5" fill="#ff0000"/><rect x="617" y="262" width="1" height="12" fill="#ff0000"/><rect x="616" y="268" width="3" height="6" fill="#ff0000"/><rect x="620" y="268" width="1" height="3" fill="#ff0000"/><rect x="619" y="269" width="3" height="1" fill="#ff0000"/><rect x="623" y="268" width="1" height="5" fill="#008000"/><rect x="622" y="269" width="3" height="3" fill="#008000"/><rect x="626" y="254" width="1" height="15" fill="#ff0000"/><rect x="625" y="257" width="3" height="12" fill="#ff0000"/><rect x="629" y="230" width="1" height="19" fill="#ff0000"/><rect x="628" y="236" width="3" height="8" fill="#ff0000"/></g>
<line x1="628" y1="227.5" x2="724" y2="227.5" stroke="#008000" stroke-width="1" stroke-dasharray="2,1"/>
<rect x="526" y="231.2" width="89" height="2.5" fill="#e0107a"/>
<path d="M613.3,227.3 L623,232.4 L613.3,237 L615.6,232.4 Z" fill="#e0107a"/>
</svg>
<div class="title" style="left:227px;top:11px;-webkit-text-stroke:0.2px #333">宁波远洋</div><div class="title" style="left:307.4px;top:14px;letter-spacing:0.9px">(601022<span style="margin-left:1.8px">)</span></div><div class="title" style="left:395.7px;top:11px;-webkit-text-stroke:0.2px #333">赢家极反通道</div>
<div class="xl" style="left:33.6px">08-01</div><div class="xl" style="left:98.5px">09-01</div><div class="xl" style="left:155.4px">10-01</div><div class="xl" style="left:213.4px">11-01</div><div class="xl" style="left:276.5px">12-01</div><div class="xl" style="left:344.4px">01-01</div><div class="xl" style="left:399.4px">02-01</div><div class="xl" style="left:453.4px">03-01</div><div class="xl" style="left:521.3px">04-01</div><div class="xl" style="left:582.4px">05-01</div><div class="xl" style="left:642.4px">06-01</div>
<div class="yl" style="top:112.4px">12</div><div class="yl" style="top:183.4px">10</div><div class="yl" style="top:255.4px">8</div><div class="yl" style="top:326.4px">6</div><div class="yl" style="top:398.4px">4</div>
<div class="ann">上穿强势通道线</div>
<div class="val">9.0424</div>
</body></html>
